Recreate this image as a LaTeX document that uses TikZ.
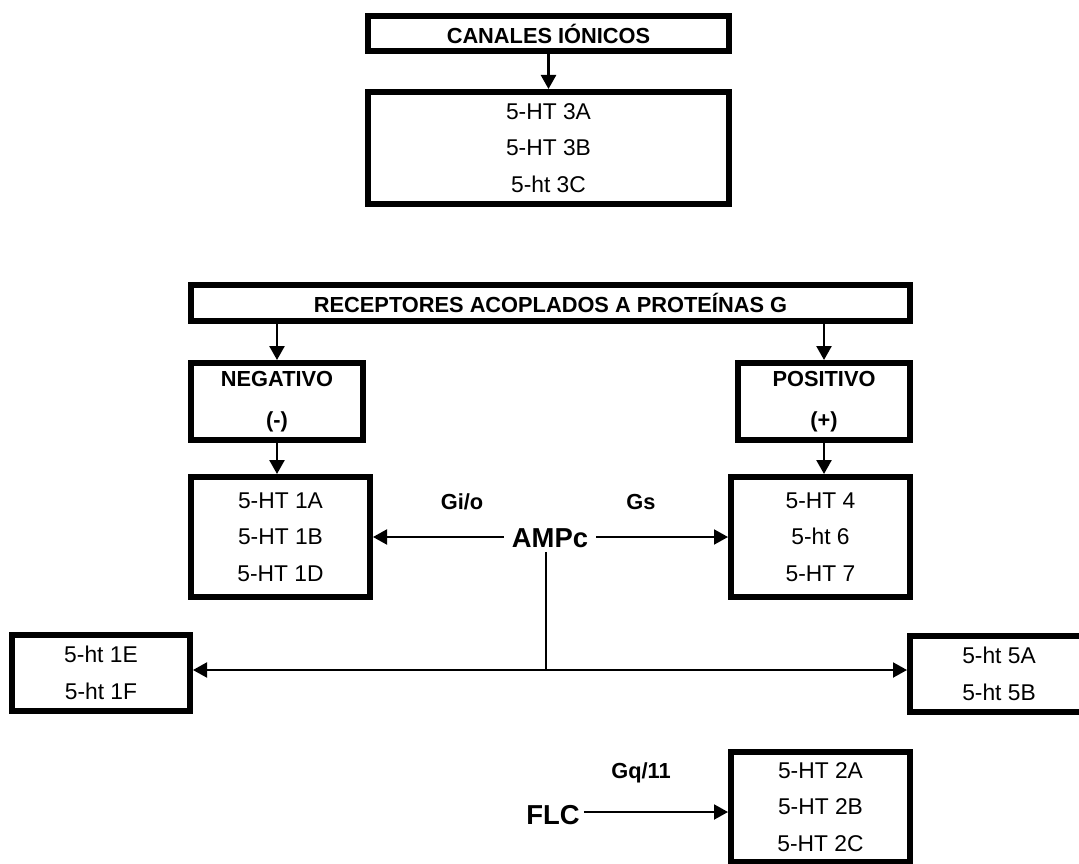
\documentclass[tikz,border=0pt]{standalone}
\usepackage{fontspec}
\setmainfont{Liberation Sans}
\usetikzlibrary{positioning, arrows.meta, calc}

\begin{document}
\begin{tikzpicture}[
    x=1pt, y=-1pt,
    box/.style={rectangle, draw, line width=6pt, align=center, inner sep=0pt},
    func/.style={font=\fontsize{22.8}{36.5}\selectfont},
    head/.style={font=\bfseries\fontsize{21.8}{41}\selectfont},
    big/.style={font=\bfseries\fontsize{27.4}{30}\selectfont, inner xsep=8pt, inner ysep=4pt},
    arrow/.style={-{Triangle[length=14pt, width=15pt]}, line width=2.5pt},
    thin_arrow/.style={arrow, line width=2pt},
    line/.style={line width=2pt},
]
\useasboundingbox (0,0) rectangle (1079,864);

%% NODES
    % ion channels
    \node[box, head, minimum width=361pt, minimum height=35pt] (canales) at (548.5,33.5) {CANALES IÓNICOS};
    \node[box, func, minimum width=361pt, minimum height=112pt] (ion) at (548.5,148) {5-HT 3A\\5-HT 3B\\5-ht 3C};

    % G protein receptors
    \node[box, head, minimum width=719pt, minimum height=36pt] (receptores) at (550.5,303) {RECEPTORES ACOPLADOS A PROTEÍNAS G};
    \node[box, head, minimum width=172pt, minimum height=77pt] (negativo) at (277,401.5) {NEGATIVO\\(-)};
    \node[box, head, minimum width=172pt, minimum height=77pt] (positivo) at (824,401.5) {POSITIVO\\(+)};

    \node[box, func, minimum width=179pt, minimum height=120pt] (ht1) at (280.5,537) {5-HT 1A\\5-HT 1B\\5-HT 1D};
    \node[box, func, minimum width=179pt, minimum height=120pt] (ht4) at (820.5,537) {5-HT 4\\5-ht 6\\5-HT 7};

    \node[box, func, minimum width=178pt, minimum height=76pt] (ht1e) at (101,673) {5-ht 1E\\5-ht 1F};
    \node[box, func, minimum width=178pt, minimum height=76pt] (ht5) at (999,674) {5-ht 5A\\5-ht 5B};

    \node[box, func, minimum width=179pt, minimum height=110pt] (ht2) at (820.5,807) {5-HT 2A\\5-HT 2B\\5-HT 2C};

    % second messengers
    \node[big] (ampc) at (550,538) {AMPc};
    \node[big, inner xsep=4pt] (flc) at (553,815) {FLC};
    \node[head] (gio) at (462,502) {Gi/o};
    \node[head] (gs) at (641,502) {Gs};
    \node[head] (gq) at (641,773) {Gq/11};

    \coordinate (split) at (546,670);
    \coordinate (flc_out) at ($(flc.east)+(0,-3)$);

%% EDGES
    \draw[arrow] (canales) -- (ion);
    \draw[arrow] (negativo.north |- receptores.south) -- (negativo.north);
    \draw[arrow] (positivo.north |- receptores.south) -- (positivo.north);
    \draw[arrow] (negativo.south) -- (negativo.south |- ht1.north);
    \draw[arrow] (positivo.south) -- (positivo.south |- ht4.north);

    \draw[thin_arrow] (ampc.west |- ht1) -- (ht1);
    \draw[thin_arrow] (ampc.east |- ht4) -- (ht4);

    \draw[line] (ampc.south -| split) -- (split);
    \draw[thin_arrow] (split) -- (split -| ht1e.east);
    \draw[thin_arrow] (split) -- (split -| ht5.west);

    \draw[thin_arrow] (flc_out) -- (flc_out -| ht2.west);

\end{tikzpicture}
\end{document}
